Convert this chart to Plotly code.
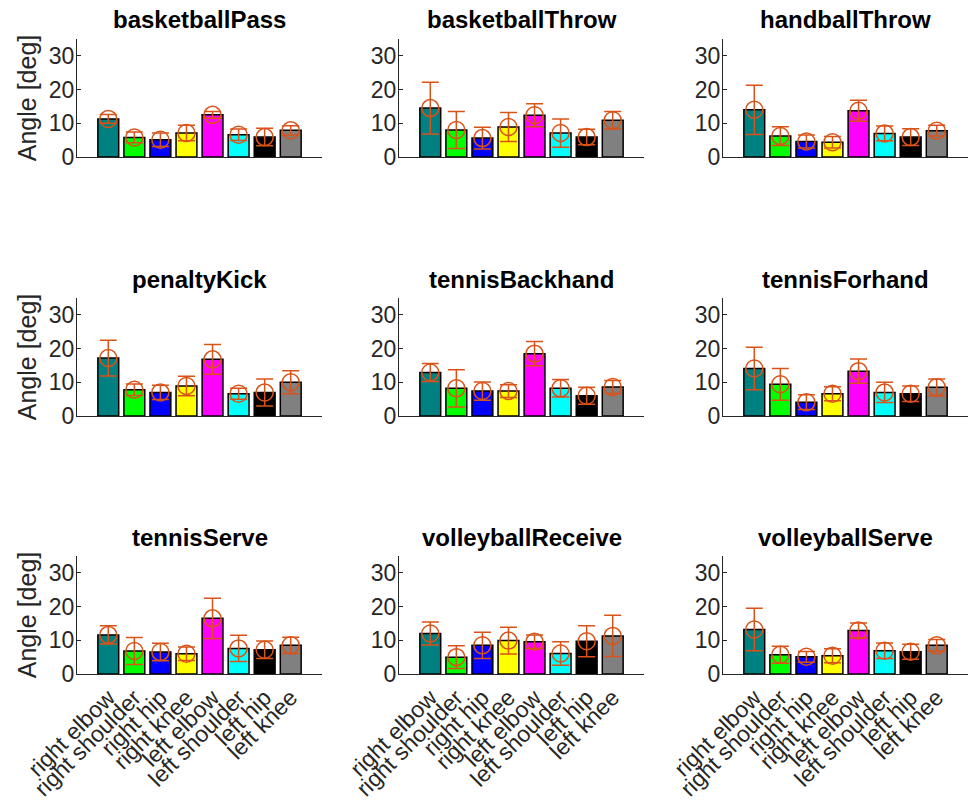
import plotly.graph_objects as go
from plotly.subplots import make_subplots

# Motions (one panel each) and joints (one bar each)
MOTIONS = [
    "basketballPass", "basketballThrow", "handballThrow",
    "penaltyKick", "tennisBackhand", "tennisForhand",
    "tennisServe", "volleyballReceive", "volleyballServe",
]
JOINTS = [
    "right elbow", "right shoulder", "right hip", "right knee",
    "left elbow", "left shoulder", "left hip", "left knee",
]
JOINT_COLORS = [
    "#008080", "#00FF00", "#0000FF", "#FFFF00",
    "#FF00FF", "#00FFFF", "#000000", "#808080",
]

# Mean angle error per joint [deg], one row per motion
MEAN_DEG = [
    [11.3, 5.8, 5.1, 7.1, 12.5, 6.6, 5.9, 7.9],    # basketballPass
    [14.5, 8.0, 5.6, 8.9, 12.4, 7.1, 5.9, 10.9],   # basketballThrow
    [14.0, 6.2, 4.6, 4.4, 13.7, 7.0, 5.9, 7.8],    # handballThrow
    [17.2, 7.8, 7.0, 8.9, 16.8, 6.6, 7.0, 10.0],   # penaltyKick
    [12.9, 8.2, 7.4, 7.4, 18.5, 8.2, 6.0, 8.6],    # tennisBackhand
    [14.1, 9.4, 4.1, 6.6, 13.3, 7.0, 6.6, 8.5],    # tennisForhand
    [11.6, 6.8, 6.5, 6.0, 16.5, 7.6, 7.2, 8.5],    # tennisServe
    [12.0, 5.0, 8.5, 9.9, 9.6, 6.1, 9.7, 11.3],    # volleyballReceive
    [13.2, 5.7, 5.1, 5.4, 12.9, 6.9, 6.6, 8.5],    # volleyballServe
]

# Standard deviation per joint [deg], one row per motion
SD_DEG = [
    [1.3, 1.6, 2.0, 2.3, 1.0, 1.7, 2.6, 1.4],      # basketballPass
    [7.7, 5.5, 3.2, 4.3, 3.4, 4.2, 2.3, 2.6],      # basketballThrow
    [7.3, 2.8, 1.9, 1.7, 3.1, 2.2, 2.5, 1.6],      # handballThrow
    [5.3, 1.7, 2.1, 2.9, 4.4, 1.6, 4.0, 3.4],      # penaltyKick
    [2.7, 5.5, 2.7, 1.9, 3.6, 2.6, 2.5, 1.9],      # tennisBackhand
    [6.3, 4.7, 2.2, 2.1, 3.6, 3.0, 2.3, 2.5],      # tennisForhand
    [2.7, 4.0, 2.6, 2.0, 6.0, 3.9, 2.6, 2.4],      # tennisServe
    [3.4, 3.4, 3.9, 4.0, 2.0, 3.5, 4.6, 6.1],      # volleyballReceive
    [6.3, 2.5, 1.6, 2.1, 2.2, 2.3, 2.2, 1.7],      # volleyballServe
]

Y_TICKS = [0, 10, 20, 30]

W, H = 968, 800
AXIS_COLOR = "#262626"
ERR_COLOR = "#D95319"
FONT = "Liberation Sans, Arial, sans-serif"

# panel boxes in pixels: (left, right) per column, (top, bottom) per row
COL_PX = [(77, 322), (399, 644), (723, 968)]
ROW_PX = [(39, 157), (298, 416), (556, 674)]

fig = make_subplots(rows=3, cols=3)

x_pos = list(range(1, len(JOINTS) + 1))

for k, motion in enumerate(MOTIONS):
    r, c = divmod(k, 3)
    fig.add_trace(
        go.Bar(
            x=x_pos, y=MEAN_DEG[k], width=0.8,
            marker=dict(color=JOINT_COLORS, line=dict(color="#000000", width=1.5)),
            showlegend=False, hoverinfo="skip",
        ),
        row=r + 1, col=c + 1,
    )
    fig.add_trace(
        go.Scatter(
            x=x_pos, y=MEAN_DEG[k], mode="markers",
            marker=dict(symbol="circle-open", size=17, color=ERR_COLOR,
                        line=dict(width=1.5, color=ERR_COLOR)),
            error_y=dict(type="data", array=SD_DEG[k], symmetric=True,
                         color=ERR_COLOR, thickness=1.5, width=8.5),
            showlegend=False, hoverinfo="skip",
        ),
        row=r + 1, col=c + 1,
    )

    x0, x1 = COL_PX[c]
    y0, y1 = ROW_PX[r]
    xd = [x0 / W, x1 / W]
    yd = [1 - y1 / H, 1 - y0 / H]
    fig.update_xaxes(
        domain=xd, range=[-0.2, 9.2], automargin=False,
        tickvals=x_pos, ticktext=JOINTS,
        showticklabels=(r == 2), tickangle=-45,
        tickfont=dict(family=FONT, size=23, color=AXIS_COLOR),
        ticks="", showline=True, linecolor=AXIS_COLOR, linewidth=1.2,
        showgrid=False, zeroline=False,
        row=r + 1, col=c + 1,
    )
    fig.update_yaxes(
        domain=yd, range=[0, 35], automargin=False,
        tickvals=Y_TICKS, ticks="inside", ticklen=4, tickwidth=1,
        tickcolor=AXIS_COLOR, ticklabelstandoff=-3,
        tickfont=dict(family=FONT, size=23, color=AXIS_COLOR),
        showline=True, linecolor=AXIS_COLOR, linewidth=1.2,
        showgrid=False, zeroline=False,
        title=dict(text="Angle [deg]" if c == 0 else "",
                   font=dict(family=FONT, size=25, color=AXIS_COLOR), standoff=4),
        row=r + 1, col=c + 1,
    )
    fig.add_annotation(
        text=f"<b>{motion}</b>", xref="paper", yref="paper",
        x=(xd[0] + xd[1]) / 2, y=yd[1], yshift=19,
        xanchor="center", yanchor="middle", showarrow=False,
        font=dict(family=FONT, size=24, color="#000000"),
    )

fig.update_layout(
    width=W, height=H,
    margin=dict(l=0, r=0, t=0, b=0),
    paper_bgcolor="white", plot_bgcolor="white",
    bargap=0.2,
)

fig.write_html("out.html")
